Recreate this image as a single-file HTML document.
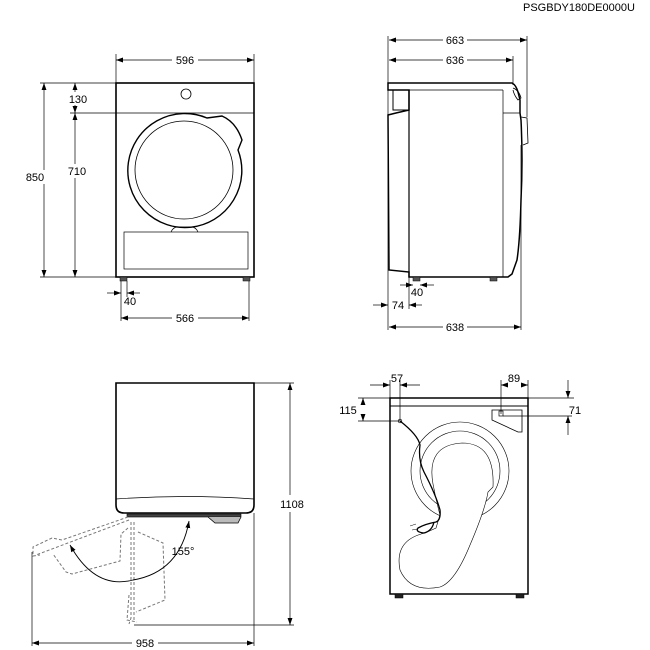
<!DOCTYPE html>
<html><head><meta charset="utf-8"><style>
html,body{margin:0;padding:0;background:#fff}
svg{display:block}
text{font-family:"Liberation Sans",sans-serif;font-size:11px;fill:#000}
</style></head><body>
<svg width="650" height="650" viewBox="0 0 650 650" xmlns="http://www.w3.org/2000/svg">
<defs>
<marker id="a" viewBox="0 0 10 10" refX="10" refY="5" markerWidth="7" markerHeight="7" orient="auto-start-reverse" markerUnits="userSpaceOnUse"><path d="M0,1.5 L10,5 L0,8.5 Z" fill="#000"/></marker>
</defs>
<text x="523" y="11">PSGBDY180DE0000U</text>

<!-- ===== Front view (top-left) ===== -->
<g fill="none" stroke="#000">
<rect x="116" y="83" width="138" height="194" stroke-width="1.6"/>
<line x1="116" y1="113" x2="254" y2="113" stroke-width="0.7"/>
<circle cx="186" cy="94" r="5" stroke-width="0.8"/>
<path d="M207,118 A57,57 0 1 0 238,150 L242,140 Q236,122 222,116 Z" stroke-width="1.4"/>
<circle cx="184" cy="170" r="49" stroke-width="0.8"/>
<rect x="124" y="232" width="124" height="37" stroke-width="0.7"/>
<path d="M171,232 Q173,227 178,227 L191,227 Q196,227 198,232" stroke-width="0.7"/>
<rect x="120" y="277" width="7" height="4" fill="#555" stroke-width="0.5"/>
<rect x="243" y="277" width="7" height="4" fill="#555" stroke-width="0.5"/>
<g stroke-width="0.7">
<line x1="116" y1="54" x2="116" y2="83"/><line x1="254" y1="54" x2="254" y2="83"/>
<line x1="40" y1="83" x2="116" y2="83"/><line x1="40" y1="277" x2="116" y2="277"/>
<line x1="70" y1="113" x2="116" y2="113"/>
<line x1="121" y1="281" x2="121" y2="321"/><line x1="127" y1="281" x2="127" y2="297"/>
<line x1="249" y1="281" x2="249" y2="321"/>
<line x1="116" y1="60" x2="172" y2="60" marker-start="url(#a)"/>
<line x1="198" y1="60" x2="254" y2="60" marker-end="url(#a)"/>
<line x1="44" y1="83" x2="44" y2="170" marker-start="url(#a)"/>
<line x1="44" y1="184" x2="44" y2="277" marker-end="url(#a)"/>
<line x1="75" y1="83" x2="75" y2="92" marker-start="url(#a)"/>
<line x1="75" y1="105" x2="75" y2="113" marker-end="url(#a)"/>
<line x1="75" y1="113" x2="75" y2="164" marker-start="url(#a)"/>
<line x1="75" y1="178" x2="75" y2="277" marker-end="url(#a)"/>
<line x1="107" y1="293" x2="121" y2="293" marker-end="url(#a)"/>
<line x1="140" y1="293" x2="127" y2="293" marker-end="url(#a)"/>
<line x1="121" y1="318" x2="172" y2="318" marker-start="url(#a)"/>
<line x1="198" y1="318" x2="249" y2="318" marker-end="url(#a)"/>
</g></g>
<text x="185" y="64" text-anchor="middle">596</text>
<text x="35" y="181" text-anchor="middle">850</text>
<text x="78" y="103" text-anchor="middle">130</text>
<text x="77" y="175" text-anchor="middle">710</text>
<text x="130" y="305" text-anchor="middle">40</text>
<text x="185" y="322" text-anchor="middle">566</text>

<!-- ===== Side view (top-right) ===== -->
<g fill="none" stroke="#000">
<path d="M388,83 L512,83 Q516,85 518,92 L520,100 L520,113 L521,120 Q523,160 521,200 Q520,240 517,260 L512,274 L508,277 L409,277 L409,272 L389,270 L388,115 L396,113 L409,110 L409,90 L388,90 Z" stroke-width="1.5"/>
<line x1="388" y1="90" x2="503" y2="90" stroke-width="0.7"/>
<line x1="409" y1="90" x2="409" y2="277" stroke-width="1.2"/>
<line x1="503" y1="90" x2="503" y2="277" stroke-width="0.7"/>
<line x1="503" y1="113" x2="520" y2="113" stroke-width="0.7"/>
<rect x="393" y="90" width="16" height="20" stroke-width="1"/>
<path d="M513,88 Q519,90 521,98 L518,100 Q514,95 513,90" stroke-width="0.8"/>
<path d="M521,117 L527,118 L528,143 L523,145" stroke-width="0.8"/>
<rect x="413" y="277" width="7" height="4" fill="#555" stroke-width="0.5"/>
<rect x="490" y="277" width="7" height="4" fill="#555" stroke-width="0.5"/>
<g stroke-width="0.7">
<line x1="388" y1="36" x2="388" y2="330"/>
<line x1="527" y1="36" x2="527" y2="117"/>
<line x1="513" y1="56" x2="513" y2="85"/>
<line x1="521" y1="145" x2="521" y2="330"/>
<line x1="409" y1="277" x2="409" y2="309"/>
<line x1="389" y1="40" x2="443" y2="40" marker-start="url(#a)"/>
<line x1="467" y1="40" x2="527" y2="40" marker-end="url(#a)"/>
<line x1="389" y1="60" x2="443" y2="60" marker-start="url(#a)"/>
<line x1="467" y1="60" x2="513" y2="60" marker-end="url(#a)"/>
<line x1="400" y1="285" x2="413" y2="285" marker-end="url(#a)"/>
<line x1="434" y1="285" x2="420" y2="285" marker-end="url(#a)"/>
<line x1="373" y1="305" x2="388" y2="305" marker-end="url(#a)"/>
<line x1="422" y1="305" x2="409" y2="305" marker-end="url(#a)"/>
<line x1="389" y1="327" x2="443" y2="327" marker-start="url(#a)"/>
<line x1="467" y1="327" x2="521" y2="327" marker-end="url(#a)"/>
</g></g>
<text x="455" y="44" text-anchor="middle">663</text>
<text x="455" y="64" text-anchor="middle">636</text>
<text x="417" y="296" text-anchor="middle">40</text>
<text x="398" y="309" text-anchor="middle">74</text>
<text x="455" y="331" text-anchor="middle">638</text>

<!-- ===== Top view (bottom-left) ===== -->
<g fill="none" stroke="#000">
<path d="M116,383 L254,383 L254,505 Q254,513 246,513 L124,513 Q116,513 116,505 Z" stroke-width="1.6"/>
<path d="M116,499 Q185,494 254,499" stroke-width="0.7"/>
<rect x="127" y="514" width="114" height="3" fill="#444" stroke-width="0.6"/>
<path d="M208,517 L215,523 L238,523 L241,517" stroke-width="0.8" fill="#bbb"/>
<g stroke="#777" stroke-width="1" stroke-dasharray="3,2">
<path d="M128,517 L62,540 L52,538 L33,547 L33,556 L40,555"/>
<path d="M129,520 L36,555"/>
<path d="M128,528 L121,534 L120,561 L72,574 L66,572 L53,554"/>
<path d="M131,522 L131,618 L129,624"/>
<path d="M134,522 L134,620"/>
<path d="M138,532 L163,543 L165,600 L136,612"/>
<path d="M129,595 L127,620 L137,622"/>
</g>
<g stroke-width="0.7">
<line x1="254" y1="383" x2="294" y2="383"/>
<line x1="134" y1="625" x2="294" y2="625"/>
<line x1="32" y1="552" x2="32" y2="646"/>
<line x1="254" y1="513" x2="254" y2="646"/>
<line x1="290" y1="383" x2="290" y2="495" marker-start="url(#a)"/>
<line x1="290" y1="512" x2="290" y2="625" marker-end="url(#a)"/>
<line x1="32" y1="643" x2="132" y2="643" marker-start="url(#a)"/>
<line x1="158" y1="643" x2="254" y2="643" marker-end="url(#a)"/>
</g>
<path d="M70,545 Q95,590 133,580 Q180,572 189,521" stroke-width="0.9" marker-start="url(#a)" marker-end="url(#a)"/>
</g>
<text x="183" y="555" text-anchor="middle">155°</text>
<text x="292" y="508" text-anchor="middle">1108</text>
<text x="145" y="647" text-anchor="middle">958</text>

<!-- ===== Back view (bottom-right) ===== -->
<g fill="none" stroke="#000">
<rect x="390" y="398" width="138" height="196" stroke-width="1.5"/>
<line x1="390" y1="406" x2="528" y2="406" stroke-width="1"/>
<rect x="395" y="594" width="8" height="4" fill="#222" stroke-width="0.5"/>
<rect x="516" y="594" width="8" height="4" fill="#222" stroke-width="0.5"/>
<path d="M492,410 L522,410 L522,432 L518,432 L492,420 Z" stroke-width="0.8"/>
<rect x="499" y="411" width="4" height="5" stroke-width="0.7"/>
<g stroke-width="0.6">
<circle cx="460" cy="471" r="49"/>
<circle cx="460" cy="471" r="40"/>
<path d="M433,484 Q426,445 462,443 Q495,443 493,487 L488,492 Q485,510 470,545 Q455,582 440,587 Q410,593 400,570 Q394,540 425,533 L436,528 L440,515 Q436,500 433,484" fill="#fff"/>
</g>
<path d="M400,421 Q418,435 420,445 Q418,460 424,472 Q436,495 440,510 Q441,520 436,522 Q425,524 418,528 Q415,532 424,533 Q432,531 434,522" stroke-width="1.3"/>
<path d="M410,526 L416,524 M412,530 L417,529" stroke-width="0.5"/>
<circle cx="400" cy="421" r="1.8" stroke-width="0.7"/>
<g stroke-width="0.7">
<line x1="390" y1="380" x2="390" y2="398"/>
<line x1="400" y1="380" x2="400" y2="421"/>
<line x1="370" y1="385" x2="390" y2="385" marker-end="url(#a)"/>
<line x1="420" y1="385" x2="400" y2="385" marker-end="url(#a)"/>
<line x1="358" y1="398" x2="390" y2="398"/>
<line x1="358" y1="421" x2="400" y2="421"/>
<line x1="363" y1="404" x2="363" y2="398" marker-end="url(#a)"/>
<line x1="363" y1="414" x2="363" y2="421" marker-end="url(#a)"/>
<line x1="501" y1="380" x2="501" y2="414"/>
<line x1="528" y1="380" x2="528" y2="398"/>
<line x1="501" y1="385" x2="507" y2="385" marker-start="url(#a)"/>
<line x1="521" y1="385" x2="528" y2="385" marker-end="url(#a)"/>
<line x1="528" y1="398" x2="574" y2="398"/>
<line x1="503" y1="416" x2="572" y2="416"/>
<line x1="568" y1="380" x2="568" y2="398" marker-end="url(#a)"/>
<line x1="568" y1="435" x2="568" y2="416" marker-end="url(#a)"/>
</g></g>
<text x="397" y="382" text-anchor="middle">57</text>
<text x="348" y="414" text-anchor="middle">115</text>
<text x="514" y="382" text-anchor="middle">89</text>
<text x="575" y="414" text-anchor="middle">71</text>
</svg>
</body></html>
